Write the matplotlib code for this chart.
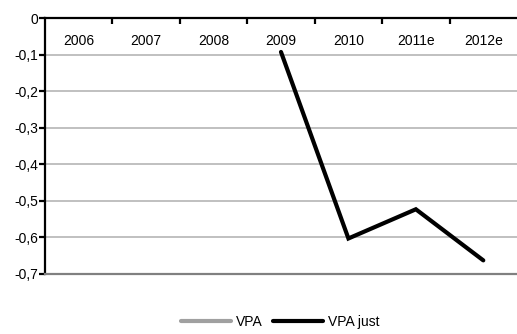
#!/usr/bin/env python3
"""VPA / VPA just per year, negative axis with category labels hanging under the top axis."""

import numpy as np
import matplotlib.pyplot as plt
from matplotlib.ticker import FixedLocator, FuncFormatter

YEARS = ["2006", "2007", "2008", "2009", "2010", "2011e", "2012e"]
VPA = [np.nan, np.nan, np.nan, np.nan, np.nan, np.nan, np.nan]
VPA_JUST = [np.nan, np.nan, np.nan, -0.092, -0.603, -0.523, -0.663]
Y_TICKS = [0, -0.1, -0.2, -0.3, -0.4, -0.5, -0.6, -0.7]

plt.rcParams["font.family"] = ["Liberation Sans Narrow", "Liberation Sans", "DejaVu Sans"]
plt.rcParams["font.size"] = 10


def main():
    fig = plt.figure(figsize=(5.17, 3.34), dpi=100)
    ax = fig.add_axes([0.087, 0.18, 0.913, 0.765])

    x = np.arange(len(YEARS))
    ax.plot(x, VPA, color="#a0a0a0", linewidth=3, label="VPA", solid_capstyle="round")
    ax.plot(x, VPA_JUST, color="black", linewidth=3, label="VPA just",
            solid_capstyle="round", solid_joinstyle="miter", zorder=4)

    ax.set_xlim(-0.5, len(YEARS) - 0.5)
    ax.set_ylim(-0.7, 0)

    # horizontal grid
    for v in Y_TICKS[1:-1]:
        ax.axhline(v, color="#c0c0c0", linewidth=1.4, zorder=1)

    ax.spines["right"].set_visible(False)
    ax.spines["bottom"].set_color("#808080")
    ax.spines["bottom"].set_linewidth(1.6)
    ax.spines["left"].set_linewidth(1.6)
    ax.spines["top"].set_linewidth(1.6)

    ax.set_yticks(Y_TICKS)
    ax.yaxis.set_major_formatter(FuncFormatter(
        lambda v, _: "0" if abs(v) < 1e-9 else f"{v:.1f}".replace(".", ",")))
    ax.tick_params(axis="y", direction="out", length=4, width=1.6, pad=1)

    # x axis on top: boundary ticks + centered labels inside the plot
    ax.xaxis.tick_top()
    ax.xaxis.set_major_locator(FixedLocator(x[:-1] + 0.5))
    ax.xaxis.set_major_formatter(FuncFormatter(lambda v, _: ""))
    ax.xaxis.set_minor_locator(FixedLocator(x))
    ax.set_xticklabels(YEARS, minor=True)
    ax.tick_params(axis="x", which="major", direction="in", length=4, width=1.6,
                   top=True, bottom=False)
    ax.tick_params(axis="x", which="minor", length=0, top=True, bottom=False,
                   labeltop=True, labelbottom=False, pad=-21)

    leg = fig.legend(loc="center", bbox_to_anchor=(0.542, 0.037), ncol=2, frameon=False,
                     handlelength=3.6, handletextpad=0.35, columnspacing=0.8)
    for line in leg.get_lines():
        line.set_solid_capstyle("round")

    fig.savefig("out.png", dpi=100)
    plt.close(fig)


if __name__ == "__main__":
    main()
